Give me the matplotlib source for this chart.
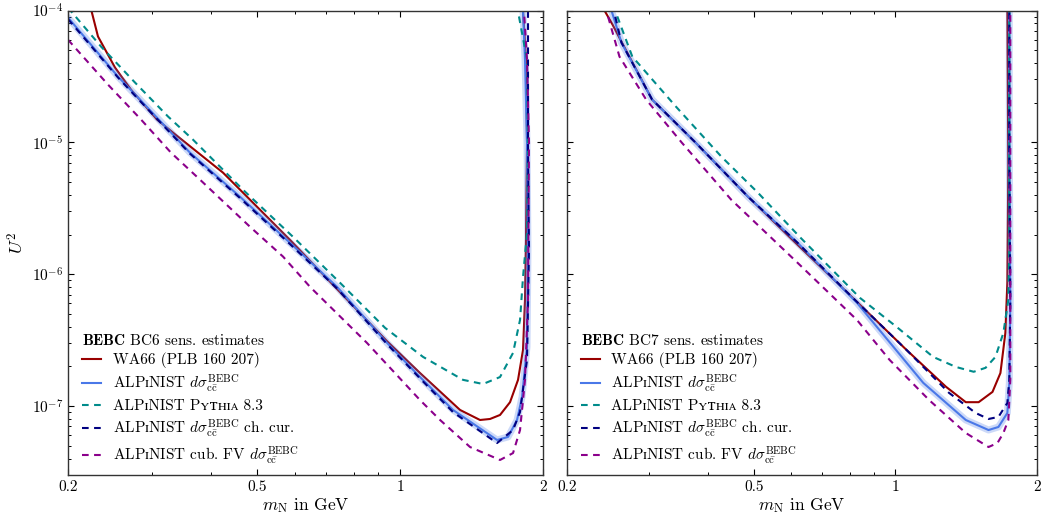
import numpy as np
import matplotlib
matplotlib.use("Agg")
import matplotlib.pyplot as plt
from matplotlib.ticker import LogLocator, NullFormatter

plt.rcParams["font.family"] = ["cmr10", "STIXGeneral", "DejaVu Serif", "DejaVu Sans"]
plt.rcParams["mathtext.fontset"] = "cm"
plt.rcParams["axes.formatter.use_mathtext"] = True

# ---- BC6 (left panel) ----
bc6_wa66_x = [0.2225, 0.2313, 0.2512, 0.2714, 0.3079, 0.3327, 0.4240, 0.4763, 0.5867, 0.9391, 1.1019,
              1.3377, 1.4739, 1.5470, 1.6239, 1.7046, 1.7720, 1.8155, 1.8329, 1.8418, 1.8508, 1.8418,
              1.8155, 1.8067]
bc6_wa66_y = [1.1e-4, 6.35e-5, 3.69e-5, 2.51e-5, 1.49e-5, 1.185e-5, 5.89e-6, 3.87e-6, 1.82e-6, 3.1e-7, 1.78e-7,
              9.34e-8, 7.84e-8, 7.98e-8, 8.56e-8, 1.07e-7, 1.58e-7, 2.67e-7, 6.39e-7, 1.82e-6, 1e-5, 4.24e-5,
              9.83e-5, 1.1e-4]

bc6_alp_x = [0.2, 0.2549, 0.2835, 0.3613, 0.4604, 0.5867, 0.7369, 0.9391, 1.1019, 1.2931, 1.6004, 1.6881,
             1.7635, 1.8067, 1.8508, 1.8598, 1.8508, 1.8329, 1.8155, 1.8067]
bc6_alp_y = [8.85e-5, 3.15e-5, 2.11e-5, 8.35e-6, 3.87e-6, 1.73e-6, 8.02e-7, 3.01e-7, 1.66e-7, 9.34e-8, 5.53e-8,
             5.83e-8, 7.84e-8, 1.17e-7, 2.81e-7, 1.53e-6, 9.95e-6, 4.24e-5, 9.83e-5, 1.1e-4]

bc6_pyth_x = [0.2, 0.2347, 0.2768, 0.3248, 0.3666, 0.4671, 0.5953, 0.7477, 0.9300, 1.1180, 1.3573, 1.4954,
              1.6239, 1.7296, 1.7893, 1.8155, 1.8508, 1.8598, 1.8508, 1.7720, 1.755]
bc6_pyth_y = [1.05e-4, 5.33e-5, 2.84e-5, 1.57e-5, 1.048e-5, 4.37e-6, 1.92e-6, 8.61e-7, 3.92e-7, 2.36e-7, 1.58e-7,
              1.47e-7, 1.66e-7, 2.53e-7, 4.50e-7, 9.55e-7, 2.06e-6, 8.81e-6, 4.24e-5, 9.83e-5, 1.1e-4]

bc6_cc_x = [0.2, 0.2549, 0.2835, 0.3613, 0.4604, 0.5867, 0.7369, 0.9391, 1.1019, 1.2931, 1.6004, 1.7296,
            1.7893, 1.8508, 1.8689, 1.8598, 1.8598, 1.8598]
bc6_cc_y = [8.6e-5, 3.1e-5, 2.06e-5, 8.2e-6, 3.78e-6, 1.69e-6, 7.8e-7, 2.95e-7, 1.62e-7, 9.0e-8, 5.24e-8,
            6.58e-8, 9.02e-8, 2.24e-7, 1.53e-6, 9.95e-6, 4.24e-5, 1.1e-4]

bc6_fv_x = [0.2, 0.2428, 0.2849, 0.3295, 0.3793, 0.4832, 0.5672, 0.6464, 0.8522, 1.1019, 1.2144, 1.4042,
            1.6239, 1.7296, 1.7893, 1.8329, 1.8598, 1.8689, 1.8508, 1.8240, 1.8155]
bc6_fv_y = [6.0e-5, 2.74e-5, 1.49e-5, 8.35e-6, 5.21e-6, 2.29e-6, 1.36e-6, 8.02e-7, 3.01e-7, 1.11e-7, 7.84e-8,
            4.89e-8, 3.90e-8, 4.40e-8, 6.58e-8, 1.58e-7, 6.39e-7, 9.95e-6, 4.24e-5, 9.83e-5, 1.1e-4]

# ---- BC7 (right panel) ----
bc7_wa66_x = [0.2370, 0.2503, 0.2615, 0.3039, 0.3761, 0.4862, 0.6199, 0.8290, 1.0563, 1.2825, 1.4130,
              1.5049, 1.6105, 1.6743, 1.7154, 1.7321, 1.7405, 1.7321]
bc7_wa66_y = [1.1e-4, 7.83e-5, 5.81e-5, 2.11e-5, 9.95e-6, 3.87e-6, 1.67e-6, 6.17e-7, 2.67e-7, 1.40e-7, 1.07e-7,
              1.07e-7, 1.28e-7, 1.78e-7, 3.59e-7, 8.61e-7, 6.54e-6, 1.1e-4]

bc7_alp_x = [0.2470, 0.2615, 0.3039, 0.3761, 0.4862, 0.6199, 0.8290, 1.1471, 1.4130, 1.5796, 1.6581, 1.7321,
             1.7489, 1.7574, 1.7489, 1.7489]
bc7_alp_y = [1.1e-4, 5.71e-5, 2.11e-5, 9.95e-6, 3.87e-6, 1.73e-6, 6.07e-7, 1.50e-7, 7.84e-8, 6.58e-8, 6.94e-8,
             8.86e-8, 1.50e-7, 6.39e-7, 8.81e-6, 1.1e-4]

bc7_pyth_x = [0.2510, 0.2758, 0.3414, 0.4267, 0.5104, 0.6289, 0.8411, 1.0064, 1.2041, 1.3460, 1.4688, 1.5568,
              1.6341, 1.6988, 1.7405, 1.7489, 1.7489, 1.7489]
bc7_pyth_y = [1.1e-4, 4.47e-5, 1.87e-5, 7.79e-6, 4.15e-6, 1.89e-6, 6.62e-7, 3.99e-7, 2.36e-7, 1.98e-7, 1.82e-7,
              1.95e-7, 2.36e-7, 3.59e-7, 6.39e-7, 1.53e-6, 8.81e-6, 1.1e-4]

bc7_cc_x = [0.2503, 0.2615, 0.3039, 0.3761, 0.4862, 0.6199, 0.8290, 1.0563, 1.3012, 1.4831, 1.5796, 1.6581,
            1.7321, 1.7489, 1.7574, 1.7489, 1.7489]
bc7_cc_y = [1.1e-4, 5.71e-5, 2.11e-5, 9.95e-6, 3.87e-6, 1.73e-6, 6.17e-7, 2.67e-7, 1.26e-7, 8.86e-8, 7.98e-8,
            8.27e-8, 1.055e-7, 1.58e-7, 6.39e-7, 8.81e-6, 1.1e-4]

bc7_fv_x = [0.2410, 0.2590, 0.2952, 0.3515, 0.4479, 0.6199, 0.8290, 0.9728, 1.1810, 1.4130, 1.5796, 1.6501,
            1.6988, 1.7405, 1.7574, 1.7574, 1.7574, 1.7574]
bc7_fv_y = [1.1e-4, 4.47e-5, 2.11e-5, 9.95e-6, 3.67e-6, 1.22e-6, 4.50e-7, 2.24e-7, 1.11e-7, 6.25e-8, 4.89e-8,
            5.24e-8, 6.25e-8, 7.84e-8, 1.58e-7, 1.53e-6, 2.11e-5, 1.1e-4]

xticks = [0.2, 0.5, 1, 2]
xticklabels = ["0.2", "0.5", "1", "2"]

# small-cap "i" inside mathtext strings comes from the STIX fallback
alp_m = "ALP$\\mathrm{\u026a}$NIST"
alp_t = "ALP\u026aNIST"
dsig = r"$d\sigma_{\mathrm{c\bar{c}}}^{\mathrm{BEBC}}$"
labels = ["WA66 (PLB 160 207)",
          alp_m + " " + dsig,
          alp_t + " P\u028f\u1d1b\u029c\u026a\u1d00 8.3",
          alp_m + " " + dsig + " ch. cur.",
          alp_m + " cub. FV " + dsig]

c_red = "#990000"
c_blue = "#4a78e8"
c_teal = "#008b8b"
c_navy = "#000080"
c_purp = "#8b008b"
dash = (0, (3.2, 2.6))


def draw_panel(ax, data, title, show_ylabels):
    wx, wy, ax_, ay, px, py, cx, cy, fx, fy = data
    ax.plot(wx, wy, color=c_red, lw=1.5, label=labels[0])
    ax.plot(ax_, ay, color=c_blue, lw=5, alpha=0.28, solid_capstyle="round")
    ax.plot(ax_, ay, color=c_blue, lw=1.5, label=labels[1])
    ax.plot(px, py, color=c_teal, lw=1.5, ls=dash, label=labels[2])
    ax.plot(cx, cy, color=c_navy, lw=1.5, ls=dash, label=labels[3])
    ax.plot(fx, fy, color=c_purp, lw=1.5, ls=dash, label=labels[4])

    ax.set_xscale("log")
    ax.set_yscale("log")
    ax.set_xlim(0.2, 2)
    ax.set_ylim(3e-8, 1e-4)
    ax.set_xticks(xticks)
    ax.set_xticklabels(xticklabels)
    ax.xaxis.set_minor_formatter(NullFormatter())
    ax.yaxis.set_major_locator(LogLocator(base=10, numticks=10))
    ax.yaxis.set_minor_locator(LogLocator(base=10, subs=np.arange(2, 10), numticks=20))
    ax.yaxis.set_minor_formatter(NullFormatter())
    if not show_ylabels:
        ax.yaxis.set_major_formatter(NullFormatter())
    ax.tick_params(which="both", direction="in", top=True, right=True, labelsize=11)
    ax.tick_params(which="major", length=4.5, width=0.8)
    ax.tick_params(which="minor", length=2.5, width=0.7)
    for s in ax.spines.values():
        s.set_linewidth(1.0)
        s.set_color("#333333")
    ax.set_xlabel(r"$m_{\mathrm{N}}$ in GeV", fontsize=12.5, labelpad=2)

    leg = ax.legend(loc="lower left", frameon=False, fontsize=11, title=title,
                    title_fontsize=11, alignment="left", handlelength=1.25,
                    handletextpad=0.75, labelspacing=0.3, borderaxespad=0.15,
                    bbox_to_anchor=(0.012, 0.0))
    return leg


fig = plt.figure(figsize=(10.43, 5.18), dpi=100)
ax1 = fig.add_axes([68 / 1043, 1 - 475 / 518, 475 / 1043, 464.5 / 518])
ax2 = fig.add_axes([566.7 / 1043, 1 - 475 / 518, 470 / 1043, 464.5 / 518])

draw_panel(ax1, (bc6_wa66_x, bc6_wa66_y, bc6_alp_x, bc6_alp_y, bc6_pyth_x, bc6_pyth_y,
                 bc6_cc_x, bc6_cc_y, bc6_fv_x, bc6_fv_y),
           r"$\mathbf{BEBC}$ BC6 sens. estimates", True)
draw_panel(ax2, (bc7_wa66_x, bc7_wa66_y, bc7_alp_x, bc7_alp_y, bc7_pyth_x, bc7_pyth_y,
                 bc7_cc_x, bc7_cc_y, bc7_fv_x, bc7_fv_y),
           r"$\mathbf{BEBC}$ BC7 sens. estimates", False)
ax1.set_ylabel(r"$U^2$", fontsize=13, labelpad=4)

fig.savefig("out.png", dpi=100)
